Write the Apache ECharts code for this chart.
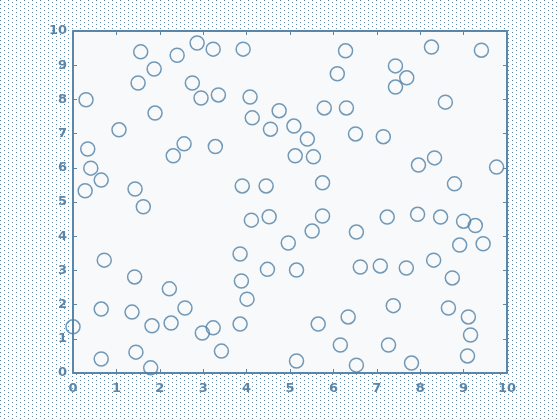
<!DOCTYPE html>
<html>
<head>
<meta charset="utf-8">
<script src="https://cdn.jsdelivr.net/npm/echarts@6/dist/echarts.min.js"></script>
<style>
html,body{margin:0;padding:0;background:#fff;}
#chart{width:560px;height:420px;}
</style>
</head>
<body>
<div id="chart"></div>
<script>
// Data
var xValues = [0.00,0.30,0.34,0.41,0.28,0.65,0.72,0.65,0.65,1.06,
  1.56,1.50,1.87,1.89,1.43,1.62,1.42,1.36,1.45,1.82,
  1.79,2.22,2.26,2.58,2.31,2.56,2.40,2.75,2.86,2.95,
  3.23,3.35,3.28,2.98,3.23,3.42,3.92,3.90,4.08,4.13,
  3.85,3.88,4.01,3.85,4.11,4.45,4.55,4.52,4.48,4.75,
  5.09,5.12,5.40,4.96,5.15,5.15,5.54,5.51,5.75,5.75,
  5.65,5.79,6.09,6.28,6.30,6.51,6.53,6.62,6.34,6.16,
  6.53,7.08,7.15,7.24,7.27,7.38,7.43,7.43,7.69,7.68,
  7.80,7.96,7.94,8.33,8.26,8.31,8.58,8.47,8.65,8.79,
  8.74,8.91,9.00,9.27,9.11,9.16,9.09,9.45,9.41,9.76];
var yValues = [1.35,7.99,6.55,5.99,5.33,5.64,3.30,1.87,0.41,7.11,
  9.39,8.48,8.89,7.60,5.38,4.86,2.81,1.78,0.61,1.38,
  0.15,2.46,1.46,1.90,6.35,6.70,9.29,8.48,9.65,8.04,
  9.47,8.13,6.62,1.17,1.32,0.64,9.47,5.47,8.07,7.46,
  3.48,2.69,2.16,1.43,4.47,5.47,7.13,4.57,3.03,7.67,
  7.22,6.35,6.84,3.80,3.01,0.35,6.32,4.15,5.56,4.59,
  1.43,7.75,8.75,9.42,7.75,6.99,4.12,3.10,1.64,0.82,
  0.23,3.13,6.91,4.56,0.82,1.97,8.98,8.36,8.63,3.07,
  0.29,6.08,4.64,6.29,9.53,3.30,7.92,4.56,1.90,5.53,
  2.78,3.74,4.44,4.31,1.64,1.11,0.50,3.78,9.44,6.02];
var tickLabels = ['0','1','2','3','4','5','6','7','8','9','10'];

var pts = xValues.map(function(x, i){ return [x, yValues[i]]; });

var C = '#5a86a9';

// dotted background pattern
var pc = document.createElement('canvas');
pc.width = 8; pc.height = 4;
var g = pc.getContext('2d');
g.fillStyle = '#ffffff'; g.fillRect(0,0,8,4);
g.fillStyle = '#5b87aa';
g.fillRect(0,0,1,1); g.fillRect(4,2,1,1);

var chart = echarts.init(document.getElementById('chart'), null, {renderer:'canvas'});
var labelStyle = {color: C, fontFamily: 'DejaVu Sans', fontSize: 13, fontWeight: 'bold',
  formatter: function(v){ return tickLabels[Math.round(v)]; }};
function axis(pos, showLabel, margin){
  return {
    type: 'value', position: pos, min: 0, max: 10, interval: 1,
    axisLine: {show: true, onZero: false, lineStyle: {color: C, width: 2}},
    axisTick: {show: true, inside: true, length: 4, lineStyle: {color: C, width: 1}},
    axisLabel: Object.assign({show: showLabel, margin: margin}, labelStyle),
    splitLine: {show: false}
  };
}
chart.setOption({
  animation: false,
  backgroundColor: {image: pc, repeat: 'repeat'},
  grid: {left: 73, right: 53, top: 31, bottom: 47, show: true,
         backgroundColor: '#f7f9fa', borderWidth: 0},
  xAxis: [axis('bottom', true, 9), axis('top', false, 7)],
  yAxis: [axis('left', true, 6), axis('right', false, 7)],
  series: [{
    type: 'scatter', data: pts, symbol: 'circle', symbolSize: 14,
    itemStyle: {color: 'rgba(0,0,0,0)', borderColor: '#4f7fa5', borderWidth: 1.5},
    silent: true
  }]
});
</script>
</body>
</html>
